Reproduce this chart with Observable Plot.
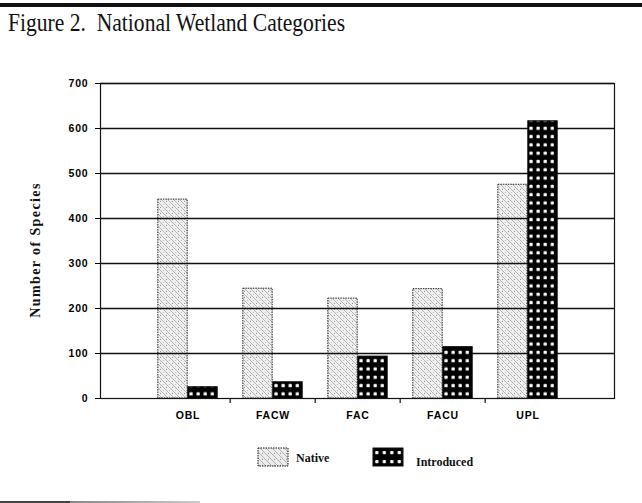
<!DOCTYPE html>
<html>
<head>
<meta charset="utf-8">
<script src="https://cdn.jsdelivr.net/npm/d3@7"></script>
<script src="https://cdn.jsdelivr.net/npm/@observablehq/plot@0.6"></script>
<style>
  html, body { margin: 0; padding: 0; background: white; }
  #page { position: relative; width: 642px; height: 503px; overflow: hidden; background: white; }
  #topbar { position: absolute; left: 0; top: 3px; width: 642px; height: 4px; background: #111; }
  #title { position: absolute; left: 8px; top: 8px; font-family: "Liberation Serif", "DejaVu Serif", serif; font-size: 26px; color: #111; white-space: pre; transform: scaleX(0.83); transform-origin: left top; }
  #chart { position: absolute; left: 0; top: 50px; }
  #ylabel { position: absolute; left: 36px; top: 250px; transform: translate(-50%, -50%) rotate(-90deg); font-family: "Liberation Serif", serif; font-weight: bold; font-size: 14px; letter-spacing: 1.4px; white-space: nowrap; color: #111; }
  #legend { position: absolute; left: 0; top: 440px; }
  #botline { position: absolute; left: 0; top: 501px; width: 200px; height: 2px; background: linear-gradient(to right, #444 0, #444 70px, #888 70px, #ccc 200px); }
</style>
</head>
<body>
<div id="page">
  <div id="topbar"></div>
  <div id="title">Figure 2.  National Wetland Categories</div>
  <div id="chart"></div>
  <div id="ylabel">Number of Species</div>
  <div id="legend"></div>
  <div id="botline"></div>
</div>
<script>
// ---- data ----
const categories = ["OBL", "FACW", "FAC", "FACU", "UPL"];
const nativeValues = [442, 244, 222, 243, 475];
const introducedValues = [25, 36, 93, 114, 616];
const yTicks = [0, 100, 200, 300, 400, 500, 600, 700];
const seriesNames = ["Native", "Introduced"];

const nativeRows = categories.map((c, i) => ({cat: c, value: nativeValues[i]}));
const introRows = categories.map((c, i) => ({cat: c, value: introducedValues[i]}));

const W = 642, H = 380, ML = 100, MR = 28, MT = 33, MB = 32;
const bw = (W - ML - MR) / (categories.length + 1);
const barW = 30;

const chart = Plot.plot({
  width: W, height: H,
  marginLeft: ML, marginRight: MR, marginTop: MT, marginBottom: MB,
  style: {background: "white", color: "black", fontFamily: "'Liberation Sans', Arial, sans-serif", fontWeight: "bold", fontSize: "10.5px", letterSpacing: "0.8px"},
  x: {domain: categories, paddingInner: 0, paddingOuter: 0.5, align: 0.5, label: null, tickSize: 0, tickPadding: 13},
  y: {domain: [0, 700], ticks: yTicks, label: null, tickSize: 5, tickPadding: 7},
  marks: [
    Plot.barY(nativeRows, {x: "cat", y: "value", fill: "url(#natPat)", stroke: "#222", strokeWidth: 1, strokeDasharray: "1.5,1", insetLeft: bw / 2 - barW, insetRight: bw / 2}),
    Plot.ruleY(yTicks.slice(1), {stroke: "#111", strokeWidth: 1.3}),
    Plot.barY(introRows, {x: "cat", y: "value", fill: "url(#introPat)", stroke: "#000", strokeWidth: 1, insetLeft: bw / 2, insetRight: bw / 2 - barW}),
    Plot.ruleX(categories.slice(1), {x: d => d, dx: -bw / 2, y1: 0, y2: -11, stroke: "#111", strokeWidth: 1.2}),
    Plot.frame({stroke: "#111", strokeWidth: 1.2})
  ]
});

// pattern definitions aligned to the chart's own scales
const xs = chart.scale("x");
const ys = chart.scale("y");
const x0 = xs.apply(categories[0]) + xs.bandwidth / 2;
const yBase = ys.apply(0);
const dotW = xs.bandwidth / 12;
const ns = "http://www.w3.org/2000/svg";
const defs = document.createElementNS(ns, "defs");
defs.innerHTML = `
  <pattern id="natPat" patternUnits="userSpaceOnUse" width="6" height="6">
    <rect width="6" height="6" fill="#e6e6e6" fill-opacity="0.6"/>
    <path d="M-1,-1 L7,7 M-4,2 L2,8 M4,-2 L8,2" stroke="#888" stroke-width="0.6"/>
    <circle cx="4.5" cy="1.2" r="0.5" fill="#666"/>
    <circle cx="1.3" cy="4.4" r="0.45" fill="#777"/>
  </pattern>
  <pattern id="introPat" patternUnits="userSpaceOnUse" x="${x0}" y="${yBase}" width="${dotW}" height="8.3">
    <rect width="${dotW}" height="8.3" fill="#000"/>
    <rect x="${dotW / 2 - 1.6}" y="2.6" width="3.2" height="3.2" rx="0.8" fill="#fff"/>
  </pattern>`;
chart.insertBefore(defs, chart.firstChild);
document.getElementById("chart").appendChild(chart);

// legend
const legend = d3.select("#legend").append("svg").attr("width", 642).attr("height", 40);
const ldefs = legend.append("defs");
ldefs.html(`
  <pattern id="natPatL" patternUnits="userSpaceOnUse" width="6" height="6">
    <rect width="6" height="6" fill="#ececec"/>
    <path d="M-1,-1 L7,7 M-4,2 L2,8 M4,-2 L8,2" stroke="#888" stroke-width="0.6"/>
    <circle cx="4.5" cy="1.2" r="0.5" fill="#666"/>
  </pattern>
  <pattern id="introPatL" patternUnits="userSpaceOnUse" x="373" y="8" width="7.5" height="9">
    <rect width="7.5" height="9" fill="#000"/>
    <rect x="2.2" y="3" width="3.2" height="3.2" rx="0.8" fill="#fff"/>
  </pattern>`);
const legendItems = [
  {name: seriesNames[0], x: 258, fill: "url(#natPatL)", dash: "1.5,1", tx: 296},
  {name: seriesNames[1], x: 373, fill: "url(#introPatL)", dash: null, tx: 416}
];
legendItems.forEach(it => {
  legend.append("rect").attr("x", it.x).attr("y", 8).attr("width", 30).attr("height", 18)
    .attr("fill", it.fill).attr("stroke", "#111").attr("stroke-dasharray", it.dash);
  legend.append("text").attr("x", it.tx).attr("y", it.name === "Native" ? 22 : 26)
    .attr("font-family", "'Liberation Serif', serif").attr("font-weight", "bold")
    .attr("font-size", "12px").attr("fill", "#111").text(it.name);
});
</script>
</body>
</html>
